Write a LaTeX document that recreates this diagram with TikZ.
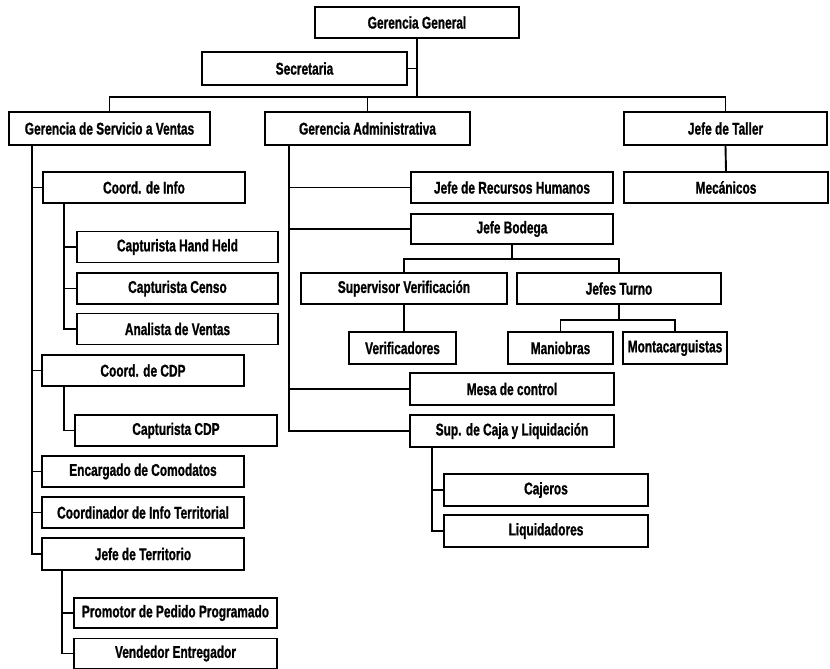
\documentclass[tikz,border=0pt]{standalone}
\usepackage{fontspec}
\newfontfamily\orgfont{Liberation Sans}[FakeStretch=0.7, FakeBold=1]
\newcommand\boxh{31pt}

\begin{document}
\begin{tikzpicture}[x=1pt, y=-1pt,
    box/.style={rectangle, draw, line width=1.4pt, minimum height=\boxh, inner sep=0pt,
        font=\orgfont\bfseries\fontsize{17}{18}\selectfont},
    link/.style={line width=1.9pt}]
    \useasboundingbox (0,0) rectangle (830,669);

    %top level
    \node at (417, 22.5) [box, minimum width=204pt] (gg) {Gerencia General};
    \node at (304.5, 68.5) [box, minimum width=205pt, minimum height=33pt] (sec) {Secretaria};
    \node at (109.5, 128.5) [box, minimum width=201pt, minimum height=33pt] (gsv) {Gerencia de Servicio a Ventas};
    \node at (367.5, 128.5) [box, minimum width=205pt, minimum height=33pt] (gad) {Gerencia Administrativa};
    \node at (725.5, 128.5) [box, minimum width=203pt, minimum height=33pt] (jt) {Jefe de Taller};
    \node at (726, 187.5) [box, minimum width=204pt] (mec) {Mecánicos};

    %servicio a ventas
    \node at (144, 187.5) [box, minimum width=202pt] (ci) {Coord. de Info};
    \node at (177.5, 247) [box, minimum width=201pt] (chh) {Capturista Hand Held};
    \node at (177.5, 288.5) [box, minimum width=201pt] (cce) {Capturista Censo};
    \node at (177.5, 329) [box, minimum width=201pt] (ave) {Analista de Ventas};
    \node at (143, 370.5) [box, minimum width=202pt] (ccdp) {Coord. de CDP};
    \node at (176, 430.5) [box, minimum width=202pt] (ccap) {Capturista CDP};
    \node at (143, 471.5) [box, minimum width=202pt] (ecom) {Encargado de Comodatos};
    \node at (143, 512.5) [box, minimum width=202pt] (cit) {Coordinador de Info Territorial};
    \node at (143, 554) [box, minimum width=202pt, minimum height=32pt] (jter) {Jefe de Territorio};
    \node at (175.5, 613) [box, minimum width=203pt, minimum height=30pt] (ppp) {Promotor de Pedido Programado};
    \node at (175.5, 653.5) [box, minimum width=203pt, minimum height=30pt] (vent) {Vendedor Entregador};

    %administrativa
    \node at (512, 187.5) [box, minimum width=202pt] (jrh) {Jefe de Recursos Humanos};
    \node at (512, 229) [box, minimum width=202pt, minimum height=30pt] (jbo) {Jefe Bodega};
    \node at (404, 288.5) [box, minimum width=206pt] (sver) {Supervisor Verificación};
    \node at (619, 288.5) [box, minimum width=204pt] (jtu) {Jefes Turno};
    \node at (402.5, 348) [box, minimum width=107pt, minimum height=32pt] (ver) {Verificadores};
    \node at (560.5, 348) [box, minimum width=105pt, minimum height=32pt] (man) {Maniobras};
    \node at (675, 348) [box, minimum width=104pt, minimum height=32pt] (mon) {Montacarguistas};
    \node at (512, 389) [box, minimum width=204pt, minimum height=32pt] (mes) {Mesa de control};
    \node at (512, 431) [box, minimum width=204pt, minimum height=32pt] (scl) {Sup. de Caja y Liquidación};
    \node at (546, 490) [box, minimum width=204pt, minimum height=32pt] (caj) {Cajeros};
    \node at (546, 531) [box, minimum width=204pt, minimum height=32pt] (liq) {Liquidadores};

    %links top
    \coordinate (bus) at (417, 97);
    \draw [link] (gg.south) -- (bus);
    \draw [link] (sec.east) -| (gg.south);
    \draw [link] (gsv.north) |- (bus) -| (jt.north);
    \draw [link] (gad.north) -- (gad.north |- bus);
    \draw [link] (jt.south) -- (mec.north);

    %links servicio a ventas
    \coordinate (gsvT) at ([xshift=24pt]gsv.south west);
    \foreach \n in {ci, ccdp, ecom, cit, jter}
        \draw [link] (\n.west) -| (gsvT);
    \coordinate (ciT) at ([xshift=22pt]ci.south west);
    \foreach \n in {chh, cce, ave}
        \draw [link] (\n.west) -| (ciT);
    \draw [link] (ccap.west) -| ([xshift=23pt]ccdp.south west);
    \coordinate (jterT) at ([xshift=21pt]jter.south west);
    \foreach \n in {ppp, vent}
        \draw [link] (\n.west) -| (jterT);

    %links administrativa
    \coordinate (gadT) at ([xshift=25pt]gad.south west);
    \foreach \n in {jrh, jbo, mes, scl}
        \draw [link] (\n.west) -| (gadT);
    \path (jbo.south) ++(0, 14.5) coordinate (jboB);
    \draw [link] (jbo.south) -- (jboB);
    \draw [link] (sver.north) |- (jboB) -| (jtu.north);
    \draw [link] (sver.south) -- (sver.south |- ver.north);
    \path (jtu.south) ++(0, 15) coordinate (jtuB);
    \draw [link] (jtu.south) -- (jtuB);
    \draw [link] (man.north) |- (jtuB) -| (mon.north);
    \coordinate (sclT) at ([xshift=23pt]scl.south west);
    \foreach \n in {caj, liq}
        \draw [link] (\n.west) -| (sclT);
\end{tikzpicture}
\end{document}
